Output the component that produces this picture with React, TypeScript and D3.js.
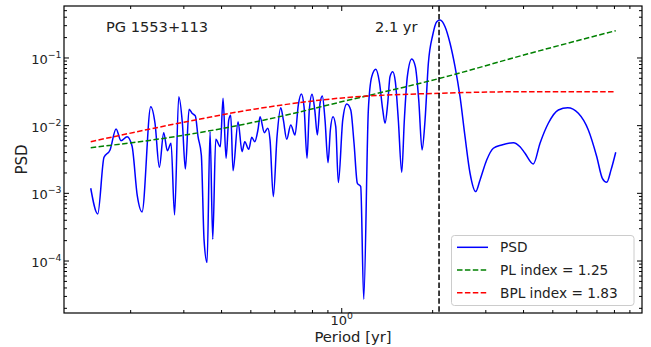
import React from "react";
import * as d3 from "d3";

// Periodogram of PG 1553+113: period in years, power spectral density
const period = [
  0.1475, 0.1556, 0.1632, 0.1709, 0.1789, 0.1858, 0.1946, 0.2021, 0.2104, 0.2181,
  0.2331, 0.2408, 0.2489, 0.2573, 0.2645, 0.2721, 0.2795, 0.2886, 0.2967, 0.3035,
  0.3122, 0.3194, 0.3275, 0.3343, 0.3428, 0.35, 0.3581, 0.3664, 0.374, 0.3826,
  0.3963, 0.4045, 0.4139, 0.4225, 0.429, 0.4366, 0.4536, 0.4676, 0.4773, 0.4921,
  0.5035, 0.5151, 0.5283, 0.5364, 0.5542, 0.5688, 0.5788, 0.5935, 0.6105, 0.6281,
  0.6407, 0.6574, 0.6778, 0.7003, 0.7182, 0.7348, 0.7501, 0.7675, 0.7809, 0.7975,
  0.814, 0.8304, 0.8475, 0.8625, 0.8803, 0.9008, 0.9168, 0.9359, 0.9553, 0.9744,
  1.0077, 1.0389, 1.071, 1.0983, 1.1263, 1.1557, 1.1826, 1.2249, 1.2571, 1.2965,
  1.3318, 1.3671, 1.3912, 1.42, 1.445, 1.4753, 1.5048, 1.5395, 1.5801, 1.6118,
  1.649, 1.7055, 1.753, 1.7988, 1.845, 1.8876, 1.9357, 2.0014, 2.0636, 2.1161,
  2.1984, 2.2838, 2.3721, 2.4645, 2.5602, 2.66, 2.7776, 2.8709, 3.02, 3.1768,
  3.3868, 3.7007, 3.8943, 4.0455, 4.3103, 4.5353, 4.8317, 5.2153, 5.6013, 6.0744,
  6.5553, 6.9908, 7.2946, 7.544, 7.7946, 8.0791,
];
const psd = [
  1.189e-3, 4.96e-4, 3.41e-3, 4.38e-3, 8.94e-3, 6.0e-3, 6.88e-3, 5.01e-3, 9.15e-4, 5.31e-4,
  1.909e-2, 1.085e-2, 2.43e-3, 7.88e-3, 4.27e-3, 5.5e-3, 4.8e-4, 2.682e-2, 1.085e-2, 2.29e-3,
  1.747e-2, 1.525e-2, 1.391e-2, 6.88e-3, 3.69e-3, 2.05e-4, 9.47e-5, 8.15e-3, 2.1e-4, 6.3e-3,
  4.89e-3, 2.54e-2, 3.3e-3, 1.214e-2, 1.424e-2, 2.16e-3, 1.146e-2, 4.13e-3, 5.8e-3, 4.48e-3,
  6.74e-3, 5.8e-3, 8.85e-3, 1.358e-2, 7.88e-3, 9.15e-3, 6.15e-3, 8.94e-4, 6.88e-3, 1.844e-2,
  1.214e-2, 6.3e-3, 1.024e-2, 7.29e-3, 2.022e-2, 2.938e-2, 1.909e-2, 3.3e-3, 1.706e-2, 2.909e-2,
  1.706e-2, 7.29e-3, 2.142e-2, 2.746e-2, 1.214e-2, 2.84e-3, 8.64e-3, 1.358e-2, 9.66e-3, 1.44e-3,
  1.214e-2, 2.091e-2, 1.706e-2, 5.5e-3, 1.41e-3, 1.26e-3, 2.73e-5, 1.706e-2, 5.294e-2, 6.808e-2,
  4.466e-2, 1.706e-2, 1.085e-2, 2.142e-2, 5.294e-2, 6.275e-2, 4.466e-2, 1.214e-2, 2.05e-3, 1.214e-2,
  5.294e-2, 9.66e-2, 7.437e-2, 2.396e-2, 4.38e-3, 1.214e-2, 8.347e-2, 0.2186, 0.3438, 0.3641,
  0.2899, 0.1649, 7.437e-2, 2.682e-2, 6.88e-3, 1.98e-3, 1.06e-3, 1.58e-3, 3.11e-3, 4.64e-3,
  5.19e-3, 5.61e-3, 4.89e-3, 3.91e-3, 2.72e-3, 5.5e-3, 1.085e-2, 1.706e-2, 1.844e-2, 1.525e-2,
  8.64e-3, 3.48e-3, 1.67e-3, 1.46e-3, 2.22e-3, 4.05e-3,
];

// Fitted noise models sampled on a period grid
const modelPeriod = [0.1475, 0.2805, 0.5364, 1.0254, 2.1161, 4.2036, 8.0791];
const plModel = [4.73e-3, 6.88e-3, 1.173e-2, 2.316e-2, 5.013e-2, 0.1173, 0.2531];
const bplModel = [5.8e-3, 1.059e-2, 1.807e-2, 2.593e-2, 3.01e-2, 3.178e-2, 3.178e-2];

const peakPeriod = 2.1;
const sourceName = "PG 1553+113";
const peakLabel = "2.1 yr";
const legendLabels = ["PSD", "PL index = 1.25", "BPL index = 1.83"];
const yTickExponents = [-4, -3, -2, -1];
const xTickExponents = [0];

const W = 651;
const H = 347;
const plot = { left: 64, right: 642, top: 6, bottom: 313 };
const FONT = "DejaVu Sans, sans-serif";

export default function App() {
  const x = d3.scaleLog().domain([0.1203, 9.87]).range([plot.left, plot.right]);
  const y = d3.scaleLog().domain([1.706e-5, 0.586]).range([plot.bottom, plot.top]);

  const line = d3
    .line<[number, number]>()
    .x((d) => x(d[0]))
    .y((d) => y(d[1]))
    .curve(d3.curveMonotoneX);

  const psdPath = line(period.map((p, i) => [p, psd[i]] as [number, number])) || "";
  const plPath = line(modelPeriod.map((p, i) => [p, plModel[i]] as [number, number])) || "";
  const bplPath = line(modelPeriod.map((p, i) => [p, bplModel[i]] as [number, number])) || "";

  const isMajor = (v: number) => Math.abs(Math.log10(v) - Math.round(Math.log10(v))) < 1e-6;
  const xTicks = x.ticks();
  const yTicks = y.ticks();
  const majorLen = 5;
  const minorLen = 3;

  const legendX = 451.5;
  const legendY = 235.5;
  const legendW = 182.5;
  const legendH = 70;
  const rowY = [247.3, 270, 292.7];
  const legendStyles = [
    { stroke: "#0000ff", dash: undefined as string | undefined },
    { stroke: "#008000", dash: "5.5 2.4" },
    { stroke: "#ff0000", dash: "5.5 2.4" },
  ];

  return (
    <svg
      width={W}
      height={H}
      style={{ position: "absolute", left: 0, top: 0, background: "#fff" }}
      fontFamily={FONT}
    >
      <defs>
        <clipPath id="plotArea">
          <rect x={plot.left} y={plot.top} width={plot.right - plot.left} height={plot.bottom - plot.top} />
        </clipPath>
      </defs>

      <g clipPath="url(#plotArea)" fill="none" strokeWidth={1.5}>
        <path d={psdPath} stroke="#0000ff" strokeLinejoin="round" />
        <path d={plPath} stroke="#008000" strokeDasharray="5.5 2.4" />
        <path d={bplPath} stroke="#ff0000" strokeDasharray="5.5 2.4" />
        <line
          x1={x(peakPeriod)}
          x2={x(peakPeriod)}
          y1={plot.top}
          y2={plot.bottom}
          stroke="#000"
          strokeDasharray="5.5 2.4"
        />
      </g>

      {/* ticks pointing inward on all four sides */}
      <g stroke="#000" strokeWidth={1}>
        {xTicks.map((t, i) => {
          const len = isMajor(t) ? majorLen : minorLen;
          const px = x(t);
          return (
            <g key={"xt" + i}>
              <line x1={px} x2={px} y1={plot.bottom} y2={plot.bottom - len} />
              <line x1={px} x2={px} y1={plot.top} y2={plot.top + len} />
            </g>
          );
        })}
        {yTicks.map((t, i) => {
          const len = isMajor(t) ? majorLen : minorLen;
          const py = y(t);
          return (
            <g key={"yt" + i}>
              <line x1={plot.left} x2={plot.left + len} y1={py} y2={py} />
              <line x1={plot.right} x2={plot.right - len} y1={py} y2={py} />
            </g>
          );
        })}
      </g>

      <rect
        x={plot.left}
        y={plot.top}
        width={plot.right - plot.left}
        height={plot.bottom - plot.top}
        fill="none"
        stroke="#000"
        strokeWidth={1.2}
      />

      {/* tick labels */}
      <g fill="#222" fontSize={13}>
        {yTickExponents.map((e) => (
          <text key={"yl" + e} x={61.5} y={y(Math.pow(10, e)) + 6} textAnchor="end">
            10
            <tspan dy={-6} fontSize={9.3}>
              {"\u2212" + Math.abs(e)}
            </tspan>
          </text>
        ))}
        {xTickExponents.map((e) => (
          <text key={"xl" + e} x={x(Math.pow(10, e))} y={325} textAnchor="middle">
            10
            <tspan dy={-6} fontSize={9.3}>
              {String(e)}
            </tspan>
          </text>
        ))}
      </g>

      {/* axis titles */}
      <text x={(plot.left + plot.right) / 2} y={342} textAnchor="middle" fontSize={14.8} fill="#222">
        Period [yr]
      </text>
      <text
        transform={`translate(27,${(plot.top + plot.bottom) / 2}) rotate(-90)`}
        textAnchor="middle"
        fontSize={15}
        fill="#222"
      >
        PSD
      </text>

      {/* annotations */}
      <text x={106} y={32.3} fontSize={14.6} fill="#222">
        {sourceName}
      </text>
      <text x={375} y={32} fontSize={14.6} fill="#222">
        {peakLabel}
      </text>

      {/* legend */}
      <g>
        <rect
          x={legendX}
          y={legendY}
          width={legendW}
          height={legendH}
          rx={3}
          fill="#fff"
          fillOpacity={0.8}
          stroke="#cccccc"
          strokeWidth={1}
        />
        {legendLabels.map((label, i) => (
          <g key={label}>
            <line
              x1={457}
              x2={488}
              y1={rowY[i]}
              y2={rowY[i]}
              stroke={legendStyles[i].stroke}
              strokeWidth={1.5}
              strokeDasharray={legendStyles[i].dash}
            />
            <text x={500} y={rowY[i] + 5} fontSize={13.7} fill="#222">
              {label}
            </text>
          </g>
        ))}
      </g>
    </svg>
  );
}
